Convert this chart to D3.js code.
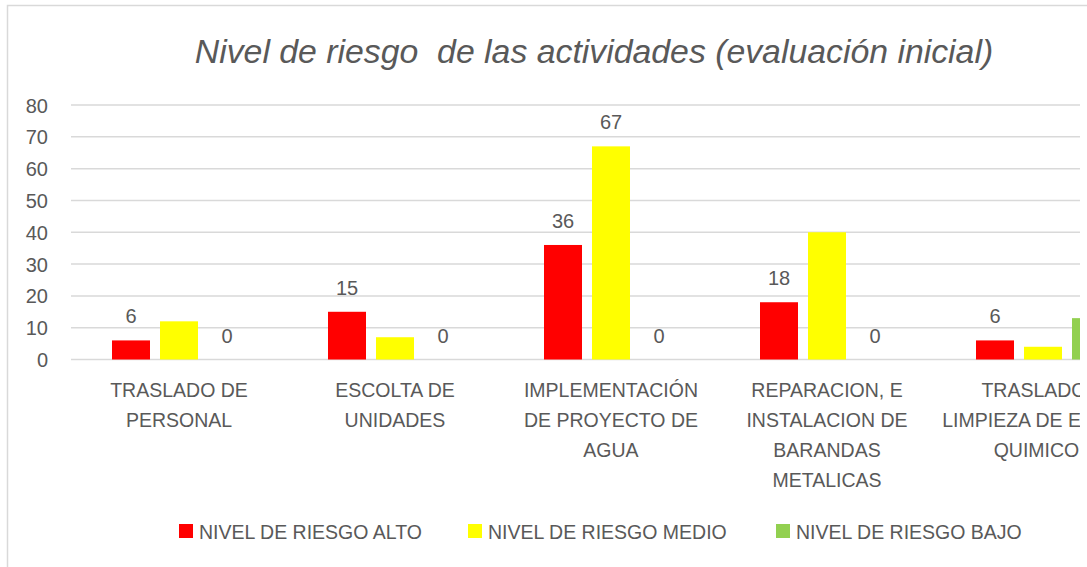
<!DOCTYPE html>
<html>
<head>
<meta charset="utf-8">
<script src="https://cdn.jsdelivr.net/npm/d3@7"></script>
<style>
  html, body { margin: 0; padding: 0; background: #ffffff; }
  svg { display: block; }
  text { font-family: "Liberation Sans", Arial, sans-serif; fill: #595959; }
</style>
</head>
<body>
<script>
const title = "Nivel de riesgo  de las actividades (evaluación inicial)";
const categories = [
  "TRASLADO DE\nPERSONAL",
  "ESCOLTA DE\nUNIDADES",
  "IMPLEMENTACIÓN\nDE PROYECTO DE\nAGUA",
  "REPARACION, E\nINSTALACION DE\nBARANDAS\nMETALICAS",
  "TRASLADO Y\nLIMPIEZA DE EQUIPO\nQUIMICOS"
];
const seriesNames = ["NIVEL DE RIESGO ALTO", "NIVEL DE RIESGO MEDIO", "NIVEL DE RIESGO BAJO"];
const alto  = [6, 15, 36, 18, 6];
const medio = [12, 7, 67, 40, 4];
const bajo  = [0, 0, 0, 0, 13];
const showAltoLabel  = [true, true, true, true, true];
const showMedioLabel = [false, false, true, false, false];
const showBajoLabel  = [true, true, true, true, true];
const yTicks = [0, 10, 20, 30, 40, 50, 60, 70, 80];
const colors = ["#FF0000", "#FFFF00", "#92D050"];

const W = 1087, H = 567;
const FS = "19.5px";
const svg = d3.select("body").append("svg").attr("width", W).attr("height", H);
svg.append("defs").append("clipPath").attr("id", "clip")
  .append("rect").attr("x", 0).attr("y", 0).attr("width", 1080).attr("height", H);

// chart border
svg.append("path").attr("d", "M7.5,567 L7.5,5.5 L1087,5.5")
  .attr("fill", "none").attr("stroke", "#d9d9d9").attr("stroke-width", 1.5);

const g = svg.append("g").attr("clip-path", "url(#clip)");

const x0 = d3.scaleBand().domain(categories).range([71, 71 + 216 * categories.length]).paddingInner(0).paddingOuter(0);
const x1 = d3.scaleBand().domain(seriesNames).range([41, 175]).paddingInner(10 / 48).paddingOuter(0);
const y = d3.scaleLinear().domain([0, 80]).range([359.5, 105]);

// title
svg.append("text").attr("x", 594).attr("y", 63).attr("text-anchor", "middle")
  .attr("xml:space", "preserve").style("white-space", "pre")
  .style("font-style", "italic").style("font-size", "33.8px").text(title);

// gridlines
g.selectAll("line.grid").data(yTicks).join("line")
  .attr("x1", 71).attr("x2", 1080)
  .attr("y1", d => y(d)).attr("y2", d => y(d))
  .attr("stroke", "#d9d9d9").attr("stroke-width", 1.5);

// y axis labels
const yAxis = d3.axisLeft(y).tickValues(yTicks).tickSize(0).tickPadding(0);
const ya = svg.append("g").attr("transform", "translate(48,0)").call(yAxis);
ya.select(".domain").remove();
ya.selectAll("text").style("font-size", "20px").attr("fill", "#595959").attr("dy", "0.35em")
  .style("font-family", "\"Liberation Sans\", Arial, sans-serif");

// bars
const seriesData = [alto, medio, bajo];
const showLabels = [showAltoLabel, showMedioLabel, showBajoLabel];
const rows = [];
categories.forEach((c, i) => {
  seriesNames.forEach((s, j) => {
    rows.push({ cat: c, series: s, value: seriesData[j][i], color: colors[j], label: showLabels[j][i] });
  });
});
g.selectAll("rect.bar").data(rows).join("rect")
  .attr("x", d => x0(d.cat) + x1(d.series))
  .attr("width", x1.bandwidth())
  .attr("y", d => y(d.value))
  .attr("height", d => y(0) - y(d.value))
  .attr("fill", d => d.color);

// data labels
g.selectAll("text.lbl").data(rows.filter(d => d.label)).join("text")
  .attr("x", d => x0(d.cat) + x1(d.series) + x1.bandwidth() / 2)
  .attr("y", d => y(d.value) - 17)
  .attr("text-anchor", "middle").style("font-size", "20px").text(d => d.value);

// category labels
const cl = g.selectAll("text.cat").data(categories).join("text")
  .attr("text-anchor", "middle").style("font-size", FS)
  .attr("x", d => x0(d) + x0.bandwidth() / 2).attr("y", 397);
cl.selectAll("tspan").data(d => d.split("\n")).join("tspan")
  .attr("x", function () { return d3.select(this.parentNode).attr("x"); })
  .attr("dy", (d, i) => i === 0 ? 0 : 30).text(d => d);

// legend
const legendX = [179, 468, 776];
const lg = svg.selectAll("g.leg").data(seriesNames).join("g")
  .attr("transform", (d, i) => `translate(${legendX[i]},524)`);
lg.append("rect").attr("width", 14).attr("height", 14).attr("fill", (d, i) => colors[i]);
lg.append("text").attr("x", 20).attr("y", 14.5).style("font-size", FS).text(d => d);
</script>
</body>
</html>
